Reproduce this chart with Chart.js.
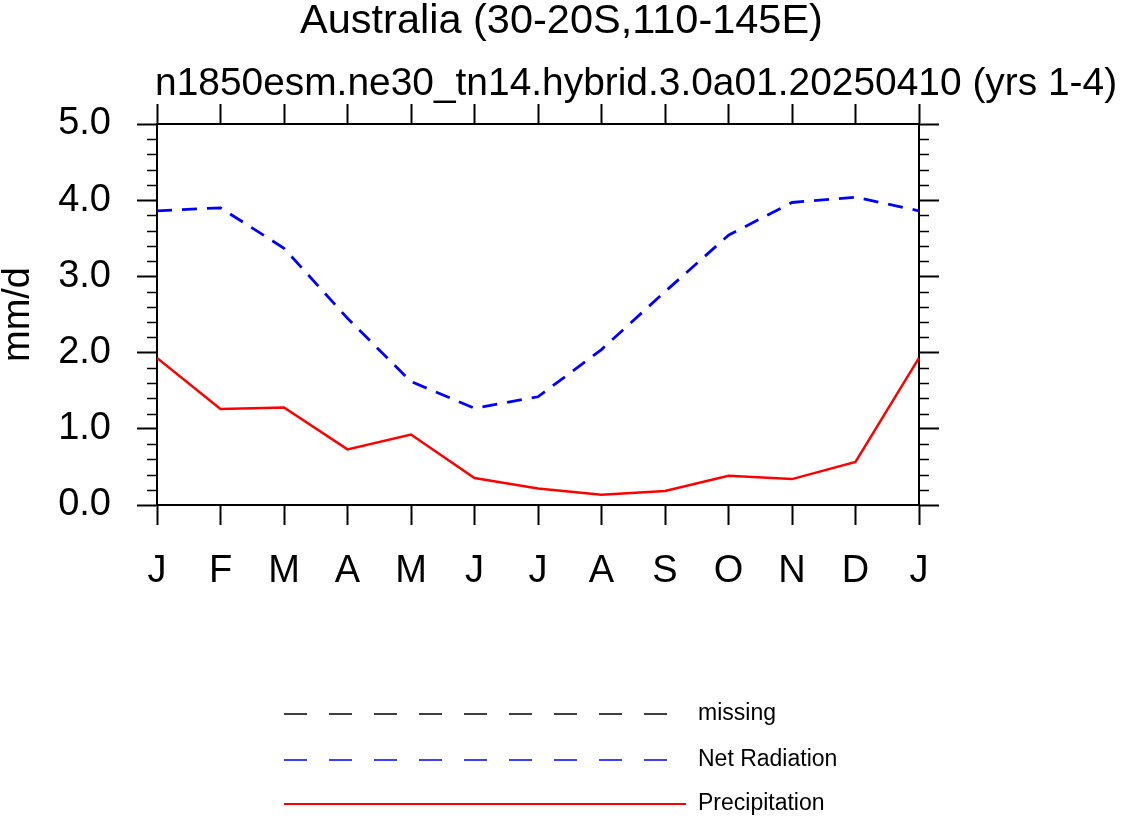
<!DOCTYPE html>
<html><head><meta charset="utf-8">
<script src="https://cdn.jsdelivr.net/npm/chart.js@4/dist/chart.umd.min.js"></script>
<style>html,body{margin:0;padding:0;background:#fff}#wrap{width:1123px;height:818px}</style>
</head><body><div id="wrap"><canvas id="c" width="1123" height="818"></canvas></div>
<script>
const monthLabels = ['J','F','M','A','M','J','J','A','S','O','N','D','J'];
const netRadiation = [3.86,3.90,3.37,2.45,1.62,1.27,1.42,2.04,2.80,3.54,3.97,4.04,3.86];
const precipitation = [1.93,1.26,1.28,0.73,0.925,0.354,0.218,0.135,0.183,0.384,0.34,0.564,1.93];
const missingValues = [];
const seriesNames = ['missing','Net Radiation','Precipitation'];
const titleText = 'Australia (30-20S,110-145E)';
const subtitleText = 'n1850esm.ne30_tn14.hybrid.3.0a01.20250410 (yrs 1-4)';
const yAxisTitle = 'mm/d';

const FONT = '"Liberation Sans", Arial, Helvetica, sans-serif';
const toPoints = arr => arr.map((v, i) => ({x: i, y: v}));

const minorTicks = {
  id: 'minorTicks',
  afterDraw(chart) {
    const ctx = chart.ctx, y = chart.scales.y, a = chart.chartArea;
    ctx.save();
    ctx.strokeStyle = '#000'; ctx.lineWidth = 1.6;
    for (let i = 1; i < 25; i++) {
      if (i % 5 === 0) continue;
      const py = Math.round(y.getPixelForValue(i * 0.2)) + 0.5;
      ctx.beginPath();
      ctx.moveTo(a.left - 10, py); ctx.lineTo(a.left, py);
      ctx.moveTo(a.right, py); ctx.lineTo(a.right + 10, py);
      ctx.stroke();
    }
    ctx.restore();
  }
};

const leftSubtitle = {
  id: 'leftSubtitle',
  afterDraw(chart) {
    const ctx = chart.ctx, a = chart.chartArea;
    ctx.save();
    ctx.fillStyle = '#000';
    ctx.font = '38.9px ' + FONT;
    ctx.textAlign = 'left';
    ctx.textBaseline = 'alphabetic';
    ctx.fillText(subtitleText, a.left - 2, a.top - 29);
    ctx.restore();
  }
};

const sampleLegend = {
  id: 'sampleLegend',
  afterDraw(chart) {
    const ctx = chart.ctx;
    const rowY = [714, 760, 804];
    ctx.save();
    chart.data.datasets.forEach((ds, i) => {
      const y = rowY[i];
      ctx.beginPath();
      ctx.strokeStyle = ds.borderColor;
      const dashed = ds.borderDash && ds.borderDash.length;
      ctx.lineWidth = dashed ? 1.6 : 2;
      if (dashed) {
        ctx.setLineDash([23, 22]);
        ctx.moveTo(284, y); ctx.lineTo(668, y);
      } else {
        ctx.setLineDash([]);
        ctx.moveTo(284, y); ctx.lineTo(686, y);
      }
      ctx.stroke();
      ctx.setLineDash([]);
      ctx.fillStyle = '#000';
      ctx.font = '23px ' + FONT;
      ctx.textBaseline = 'middle';
      ctx.textAlign = 'left';
      ctx.fillText(ds.label, 698, y);
    });
    ctx.restore();
  }
};

const tickGrid = {drawOnChartArea: false, drawTicks: true, tickLength: 20, tickWidth: 2, tickColor: '#000'};
const axisBorder = {display: true, color: '#000', width: 2};

new Chart(document.getElementById('c'), {
  type: 'line',
  data: {
    datasets: [
      {label: seriesNames[0], data: toPoints(missingValues), borderColor: '#000000', borderDash: [15, 10], borderWidth: 2.5, pointRadius: 0, fill: false},
      {label: seriesNames[1], data: toPoints(netRadiation), borderColor: '#0000ff', borderDash: [15, 10], borderWidth: 2.8, pointRadius: 0, fill: false, tension: 0},
      {label: seriesNames[2], data: toPoints(precipitation), borderColor: '#ff0000', borderWidth: 2.5, pointRadius: 0, fill: false, tension: 0}
    ]
  },
  options: {
    responsive: false,
    animation: false,
    devicePixelRatio: 1,
    layout: {padding: 0},
    plugins: {
      legend: {display: false},
      tooltip: {enabled: false},
      title: {display: true, text: titleText, color: '#000', font: {family: FONT, size: 41.5, weight: 'normal', lineHeight: 1.0}, padding: {top: 1, bottom: 0}}
    },
    scales: {
      x: {
        type: 'linear', position: 'bottom', min: 0, max: 12,
        grid: tickGrid, border: axisBorder,
        ticks: {stepSize: 1, autoSkip: false, maxRotation: 0, color: '#000', padding: 24, font: {family: FONT, size: 38}, callback: v => monthLabels[v]},
        afterFit: s => { s.height = 313; }
      },
      x2: {
        type: 'linear', position: 'top', min: 0, max: 12,
        grid: tickGrid, border: axisBorder,
        ticks: {stepSize: 1, autoSkip: false, maxRotation: 0, padding: 0, callback: () => ''},
        afterFit: s => { s.height = 81.5; }
      },
      y: {
        type: 'linear', position: 'left', min: 0, max: 5,
        grid: tickGrid, border: axisBorder,
        ticks: {stepSize: 1, color: '#000', padding: 26, font: {family: FONT, size: 38}, callback: v => v.toFixed(1)},
        title: {display: true, text: yAxisTitle, color: '#000', font: {family: FONT, size: 38, lineHeight: 0.9}, padding: {top: 1, bottom: 0}},
        afterFit: s => { s.width = 157; }
      },
      yR: {
        type: 'linear', position: 'right', min: 0, max: 5,
        grid: tickGrid, border: axisBorder,
        ticks: {stepSize: 1, padding: 0, callback: () => ''},
        afterFit: s => { s.width = 204; }
      }
    }
  },
  plugins: [minorTicks, leftSubtitle, sampleLegend]
});
</script></body></html>
